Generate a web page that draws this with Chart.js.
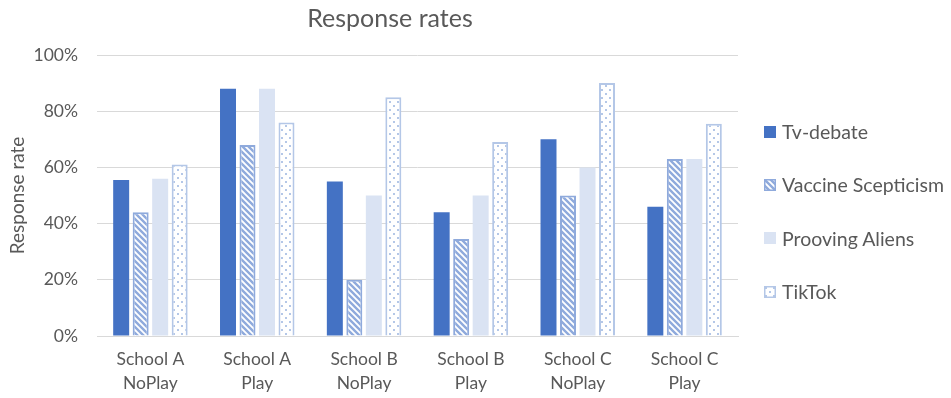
<!DOCTYPE html>
<html>
<head>
<meta charset="utf-8">
<script src="https://cdn.jsdelivr.net/npm/chart.js@4/dist/chart.umd.min.js"></script>
<style>
  html, body { margin: 0; padding: 0; background: #fff; }
  #wrap { position: relative; width: 951px; height: 398px; }
  #legend { position: absolute; left: 764px; top: 105px; margin: 0; padding: 0; list-style: none;
            font-family: Lato, "Open Sans", sans-serif; font-size: 19.5px; color: #595959; }
  #legend li { display: flex; align-items: center; height: 53.3px; white-space: nowrap; }
  #legend canvas { margin-right: 6px; }
</style>
</head>
<body>
<div id="wrap"><canvas id="c" width="951" height="398"></canvas><ul id="legend"></ul></div>
<script>
const categories = [
  ['School A', 'NoPlay'], ['School A', 'Play'],
  ['School B', 'NoPlay'], ['School B', 'Play'],
  ['School C', 'NoPlay'], ['School C', 'Play']
];
const tvDebate = [55.5, 88, 55, 44, 70, 46];
const vaccineScepticism = [44, 68, 20, 34.5, 50, 63];
const proovingAliens = [56, 88, 50, 50, 60, 63];
const tikTok = [61, 76, 85, 69, 90, 75.5];
const yTicks = [0, 20, 40, 60, 80, 100];

const FONT = 'Lato, "Open Sans", sans-serif';
const GREY = '#595959';

// diagonal "\" stripes
function stripePattern(ctx) {
  const s = 6;
  const cv = document.createElement('canvas');
  cv.width = s; cv.height = s;
  const g = cv.getContext('2d');
  g.fillStyle = '#fff'; g.fillRect(0, 0, s, s);
  g.strokeStyle = '#8faadc'; g.lineWidth = 2.4;
  g.beginPath();
  for (let k = -1; k <= 1; k++) {
    g.moveTo(k * s - 1, -1); g.lineTo(k * s + s + 1, s + 1);
  }
  g.stroke();
  return ctx.createPattern(cv, 'repeat');
}
// staggered small dots
function dotPattern(ctx) {
  const s = 8;
  const cv = document.createElement('canvas');
  cv.width = s; cv.height = s;
  const g = cv.getContext('2d');
  g.fillStyle = '#fff'; g.fillRect(0, 0, s, s);
  g.fillStyle = '#b4c7e7';
  g.fillRect(1, 1, 2, 2);
  g.fillRect(5, 5, 2, 2);
  return ctx.createPattern(cv, 'repeat');
}

const mainCtx = document.getElementById('c').getContext('2d');

const titlePlugin = {
  id: 'sideTitle',
  afterDraw(chart) {
    const ctx = chart.ctx;
    ctx.save();
    ctx.font = '25px ' + FONT;
    ctx.fillStyle = GREY;
    ctx.textAlign = 'center';
    ctx.textBaseline = 'middle';
    ctx.fillText('Response rates', 390, 19);
    ctx.restore();
  }
};

const chart = new Chart(document.getElementById('c'), {
  type: 'bar',
  data: {
    labels: categories,
    datasets: [
      { label: 'Tv-debate', data: tvDebate, backgroundColor: '#4472c4', borderColor: '#4472c4', borderWidth: 0 },
      { label: 'Vaccine Scepticism', data: vaccineScepticism, backgroundColor: stripePattern(mainCtx), borderColor: '#8faadc', borderWidth: 2 },
      { label: 'Prooving Aliens', data: proovingAliens, backgroundColor: '#dae3f3', borderColor: '#dae3f3', borderWidth: 0 },
      { label: 'TikTok', data: tikTok, backgroundColor: dotPattern(mainCtx), borderColor: '#b4c7e7', borderWidth: 2 }
    ]
  },
  options: {
    responsive: false,
    animation: false,
    devicePixelRatio: 1,
    layout: { padding: { top: 55, left: 6, right: 213, bottom: 4 } },
    datasets: { bar: { categoryPercentage: 0.73, barPercentage: 0.82 } },
    scales: {
      x: {
        afterFit(scale) { scale.height = 58; },
        grid: { display: false },
        border: { color: '#d9d9d9', width: 1 },
        ticks: { color: GREY, font: { family: FONT, size: 17.5, lineHeight: 1.37 }, maxRotation: 0, padding: 3 }
      },
      y: {
        min: 0, max: 100,
        afterFit(scale) { scale.width = 91; },
        afterBuildTicks(axis) { axis.ticks = yTicks.map(v => ({ value: v })); },
        grid: { color: '#d9d9d9', lineWidth: 1, drawTicks: false },
        border: { display: false },
        ticks: { color: GREY, font: { family: FONT, size: 17.5 }, padding: 19, callback: v => v + '%' },
        title: { display: true, text: 'Response rate', color: GREY, font: { family: FONT, size: 19 }, padding: { top: 0, bottom: 8 } }
      }
    },
    plugins: {
      title: { display: false },
      tooltip: { enabled: false },
      legend: { display: false }
    }
  },
  plugins: [titlePlugin]
});

// legend list built from the datasets
const ul = document.getElementById('legend');
chart.data.datasets.forEach(ds => {
  const li = document.createElement('li');
  const sw = document.createElement('canvas');
  sw.width = 12; sw.height = 12;
  const g = sw.getContext('2d');
  g.fillStyle = ds.backgroundColor instanceof CanvasPattern
    ? (ds.label === 'TikTok' ? dotPattern(g) : stripePattern(g))
    : ds.backgroundColor;
  g.fillRect(0, 0, 12, 12);
  if (ds.borderWidth) { g.strokeStyle = ds.borderColor; g.lineWidth = 1.5; g.strokeRect(0.75, 0.75, 10.5, 10.5); }
  li.appendChild(sw);
  li.appendChild(document.createTextNode(ds.label));
  ul.appendChild(li);
});
</script>
</body>
</html>
